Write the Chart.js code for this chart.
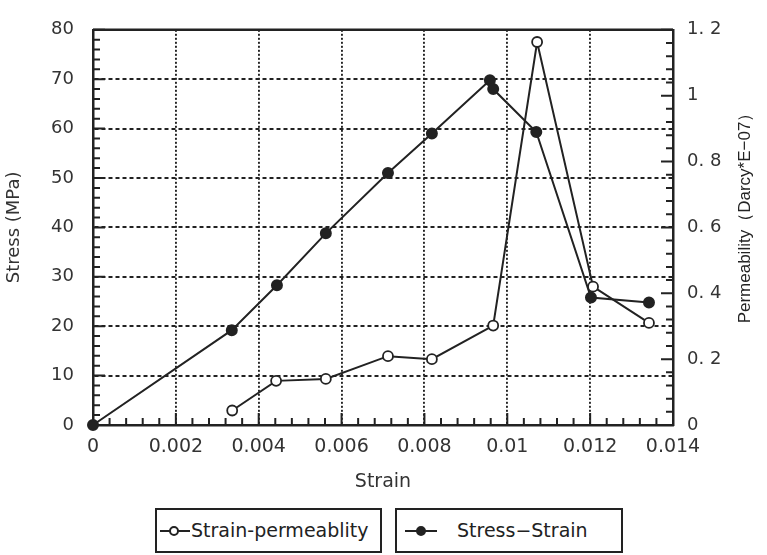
<!DOCTYPE html>
<html lang="en">
<head>
  <meta charset="UTF-8" />
  <title>Stress / Permeability vs Strain</title>
  <script src="https://cdn.jsdelivr.net/npm/chart.js"></script>
  <style>
    body {
      margin: 0;
      background: #fff;
      color: #222;
      font-family: 'DejaVu Sans', sans-serif;
    }
    #wrap { position: absolute; left: 0; top: 0; width: 767px; height: 495px; }
    .legend-box {
      position: absolute;
      top: 508px;
      height: 41px;
      border: 2px solid #222;
      font-size: 19px;
      line-height: 41px;
      white-space: nowrap;
    }
    .legend-box .line { position: absolute; top: 20px; height: 2px; background: #222; }
    .legend-box .dot { position: absolute; border-radius: 50%; border: 2px solid #222; box-sizing: border-box; }
    .legend-box .txt { position: absolute; top: 0; }
  </style>
</head>
<body>
  <div id="wrap"><canvas id="chart"></canvas></div>

  <div class="legend-box" style="left:155px; width:223px;">
    <div class="line" style="left:3px; width:30px;"></div>
    <div class="dot" style="left:12px; top:16px; width:10px; height:10px; background:#fff;"></div>
    <span class="txt" style="left:34px;">Strain-permeablity</span>
  </div>
  <div class="legend-box" style="left:395px; width:224px;">
    <div class="line" style="left:8px; width:32px;"></div>
    <div class="dot" style="left:19px; top:16px; width:10px; height:10px; background:#222;"></div>
    <span class="txt" style="left:60px;">Stress−Strain</span>
  </div>

  <script>
    // values
    const stressStrain = [0, 0.00335, 0.00444, 0.00562, 0.00712, 0.00818, 0.00958, 0.00966, 0.0107, 0.01202, 0.01342];
    const stressValues = [0, 19.2, 28.3, 38.8, 51, 59, 69.8, 68, 59.3, 25.8, 24.8];
    const permStrain = [0.00336, 0.00442, 0.00562, 0.00712, 0.00818, 0.00966, 0.01072, 0.01207, 0.01342];
    const permValues = [0.044, 0.134, 0.14, 0.209, 0.2, 0.302, 1.163, 0.42, 0.31];

    const ink = '#222';
    const tickFont = { family: 'DejaVu Sans', size: 18 };

    // inward minor ticks, top frame line and the right-hand axis title
    const axisDecor = {
      id: 'axisDecor',
      afterDraw(chart) {
        const { ctx, chartArea: a, scales: { x, y, y1 } } = chart;
        ctx.save();
        ctx.strokeStyle = ink;
        ctx.lineWidth = 2;
        ctx.beginPath();
        for (let i = 0; i <= 35; i++) {
          const px = x.getPixelForValue(i * 0.0004);
          ctx.moveTo(px, a.bottom);
          ctx.lineTo(px, a.bottom - (i % 5 === 0 ? 12 : 7));
        }
        for (let i = 0; i <= 40; i++) {
          const py = y.getPixelForValue(i * 2);
          ctx.moveTo(a.left, py);
          ctx.lineTo(a.left + (i % 5 === 0 ? 12 : 7), py);
        }
        for (let i = 0; i <= 30; i++) {
          const py = y1.getPixelForValue(i * 0.04);
          ctx.moveTo(a.right, py);
          ctx.lineTo(a.right - (i % 5 === 0 ? 12 : 7), py);
        }
        ctx.stroke();

        ctx.lineWidth = 2.5;
        ctx.beginPath();
        ctx.moveTo(a.left, a.top);
        ctx.lineTo(a.right, a.top);
        ctx.stroke();

        ctx.translate(745, 214);
        ctx.rotate(-Math.PI / 2);
        ctx.fillStyle = ink;
        ctx.font = '17px "Liberation Sans"';
        ctx.textAlign = 'center';
        ctx.textBaseline = 'middle';
        ctx.fillText('Permeability（Darcy*E−07）', 0, 0);
        ctx.restore();
      }
    };

    new Chart(document.getElementById('chart'), {
      type: 'line',
      data: {
        datasets: [
          {
            label: 'Strain-permeablity',
            data: permStrain.map((s, i) => ({ x: s, y: permValues[i] })),
            yAxisID: 'y1',
            borderColor: ink,
            borderWidth: 2,
            pointRadius: 5,
            pointBorderWidth: 1.8,
            pointBackgroundColor: '#fff',
            pointBorderColor: ink,
            tension: 0,
            clip: false
          },
          {
            label: 'Stress-Strain',
            data: stressStrain.map((s, i) => ({ x: s, y: stressValues[i] })),
            yAxisID: 'y',
            borderColor: ink,
            borderWidth: 2,
            pointRadius: 5,
            pointBackgroundColor: ink,
            pointBorderColor: ink,
            tension: 0,
            clip: false
          }
        ]
      },
      options: {
        responsive: true,
        maintainAspectRatio: false,
        animation: false,
        layout: { padding: { top: 12, left: 0, right: 0, bottom: 0 } },
        plugins: { legend: { display: false }, tooltip: { enabled: false } },
        scales: {
          x: {
            type: 'linear',
            min: 0,
            max: 0.014,
            afterFit: s => { s.height = 70; },
            ticks: {
              stepSize: 0.002,
              padding: 11,
              color: '#333',
              font: { family: 'DejaVu Sans', size: 19 },
              callback: v => String(Number(v.toFixed(3)))
            },
            grid: { color: ink, lineWidth: 1.9, drawTicks: false },
            border: { color: ink, width: 2.5, dash: [2, 2] },
            title: {
              display: true,
              text: 'Strain',
              color: '#333',
              font: { family: 'DejaVu Sans', size: 19 },
              padding: { top: 0, bottom: 2 }
            }
          },
          y: {
            position: 'left',
            min: 0,
            max: 80,
            afterFit: s => { s.width = 93; },
            ticks: { stepSize: 10, padding: 19, color: '#333', font: tickFont },
            grid: { color: ink, lineWidth: 1.9, drawTicks: false },
            border: { color: ink, width: 2.5, dash: [4, 3] },
            title: {
              display: true,
              text: 'Stress (MPa)',
              color: '#333',
              font: { family: 'DejaVu Sans', size: 18 },
              padding: { top: 4, bottom: 0 }
            }
          },
          y1: {
            position: 'right',
            min: 0,
            max: 1.2,
            afterFit: s => { s.width = 94; },
            ticks: {
              stepSize: 0.2,
              padding: 14,
              color: '#333',
              font: tickFont,
              callback: v => v.toFixed(1).replace('.0', '').replace('.', '. ')
            },
            grid: { display: false, drawTicks: false },
            border: { color: ink, width: 2.5 }
          }
        }
      },
      plugins: [axisDecor]
    });
  </script>
</body>
</html>
